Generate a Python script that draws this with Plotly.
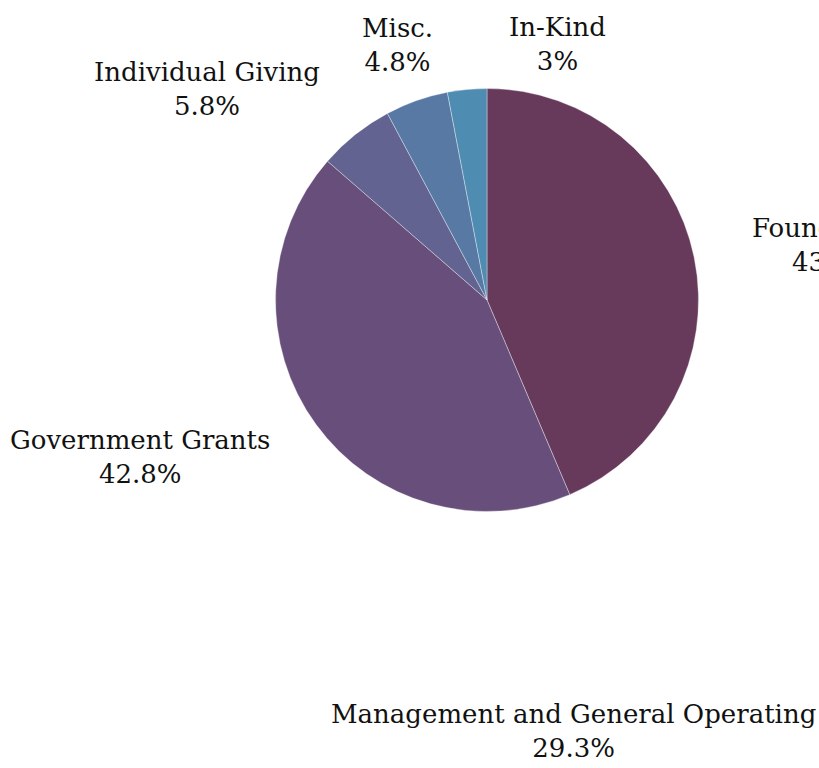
import plotly.graph_objects as go

labels = ["Foundations", "Government Grants", "Individual Giving", "Misc.", "In-Kind"]
values = [43.6, 42.8, 5.8, 4.8, 3.0]
colors = ["#673A5C", "#684F7B", "#626390", "#5879A4", "#4E8CB1"]

other_label = "Management and General Operating"
other_value = 29.3

W, H = 819, 768

# pie centre and radius (pixels)
CX, CY, R = 487, 300, 211.5

# label placement (pixel centres / anchors)
label_layout = {
    "Foundations": (750, 245, "left"),
    "Government Grants": (272, 457, "right"),
    "Individual Giving": (207, 89, "center"),
    "Misc.": (397, 45, "center"),
    "In-Kind": (557, 44, "center"),
}
other_layout = (573, 731, "center")

FONT = "DejaVu Serif"
FSIZE = 26


def px_x(x):
    return x / W


def px_y(y):
    return 1 - y / H


fig = go.Figure()
fig.add_trace(go.Pie(
    labels=labels,
    values=values,
    sort=False,
    direction="clockwise",
    rotation=0,
    textposition="none",
    textinfo="none",
    marker=dict(colors=colors, line=dict(color="rgba(255,255,255,0.6)", width=0.6)),
    domain=dict(x=[px_x(CX - R), px_x(CX + R)], y=[px_y(CY + R), px_y(CY - R)]),
    showlegend=False,
    hoverinfo="label+percent",
    automargin=False,
))

total = sum(values)


def fmt(p):
    return f"{p:.3g}%"


for lab, val in zip(labels, values):
    x, y, anchor = label_layout[lab]
    fig.add_annotation(
        text=f"{lab}<br>{fmt(100 * val / total)}",
        x=px_x(x), y=px_y(y), xref="paper", yref="paper",
        xanchor=anchor, yanchor="middle", showarrow=False, align="center",
        font=dict(family=FONT, size=FSIZE, color="#111111"),
    )

x, y, anchor = other_layout
fig.add_annotation(
    text=f"{other_label}<br>{fmt(other_value)}",
    x=px_x(x), y=px_y(y), xref="paper", yref="paper",
    xanchor=anchor, yanchor="middle", showarrow=False, align="center",
    font=dict(family=FONT, size=FSIZE, color="#111111"),
)

fig.update_layout(
    width=W, height=H,
    margin=dict(l=0, r=0, t=0, b=0),
    paper_bgcolor="white", plot_bgcolor="white",
    showlegend=False,
)

fig.write_html(
    "out.html",
    config={"displayModeBar": False},
    post_script="document.body.style.margin='0';"
                "document.documentElement.style.overflow='hidden';"
                "document.body.style.overflow='hidden';",
)
